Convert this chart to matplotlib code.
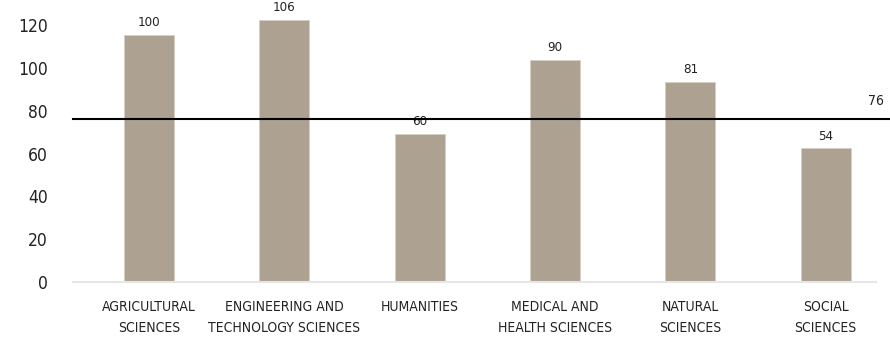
import matplotlib.pyplot as plt
import numpy as np

categories = ['AGRICULTURAL\nSCIENCES', 'ENGINEERING AND\nTECHNOLOGY SCIENCES', 'HUMANITIES',
              'MEDICAL AND\nHEALTH SCIENCES', 'NATURAL\nSCIENCES', 'SOCIAL\nSCIENCES']
values = [100, 106, 60, 90, 81, 54]
average = 76
yticks = [0, 20, 40, 60, 80, 100, 120]

bar_color = '#ada191'
text_color = '#222222'
font = dict(family='DejaVu Sans', stretch='condensed')

fig = plt.figure(figsize=(8.9, 3.38), dpi=100)
ax = fig.add_axes([0.082, 0.166, 0.902, 0.823])
ax2 = ax.twinx()
ax2.set_position(ax.get_position())
# keep the average line above the bars
ax.set_zorder(ax2.get_zorder() + 1)
ax.patch.set_visible(False)

x = np.arange(len(categories))

# bars on a hidden secondary scale
bars = ax2.bar(x, values, width=0.37, color=bar_color, edgecolor='#d6cec3', linewidth=0.6)
for b, v in zip(bars, values):
    ax2.annotate(f'{v}', xy=(b.get_x() + b.get_width() / 2, v), xytext=(0, 4),
                 textcoords='offset points', ha='center', va='bottom',
                 fontsize=9.5, color=text_color, **font)
ax2.set_ylim(0, 112.6)
ax2.set_yticks([])

# average line on the primary scale
ax.axhline(average, xmin=0, xmax=1.016, color='black', linewidth=1.5, clip_on=False)
ax.annotate(f'{average}', xy=(1.0, average), xycoords=('axes fraction', 'data'),
            xytext=(0, 8), textcoords='offset points', ha='center', va='bottom',
            fontsize=10, color=text_color, **font)
ax.set_ylim(0, 130)
ax.set_yticks(yticks)
ax.set_yticklabels([str(t) for t in yticks], fontsize=12.5, color=text_color, **font)
ax.tick_params(axis='y', length=0, pad=18)

ax.set_xlim(-0.561, 5.37)
for a in (ax, ax2):
    for s in a.spines.values():
        s.set_visible(False)
ax.spines['bottom'].set_visible(True)
ax.spines['bottom'].set_color('#e6e6e6')
ax.spines['bottom'].set_linewidth(1.5)

ax.set_xticks(x)
ax.set_xticklabels(categories, fontsize=10, color=text_color, linespacing=1.65, **font)
ax.tick_params(axis='x', length=0, pad=13)

fig.savefig('out.png', dpi=100)
